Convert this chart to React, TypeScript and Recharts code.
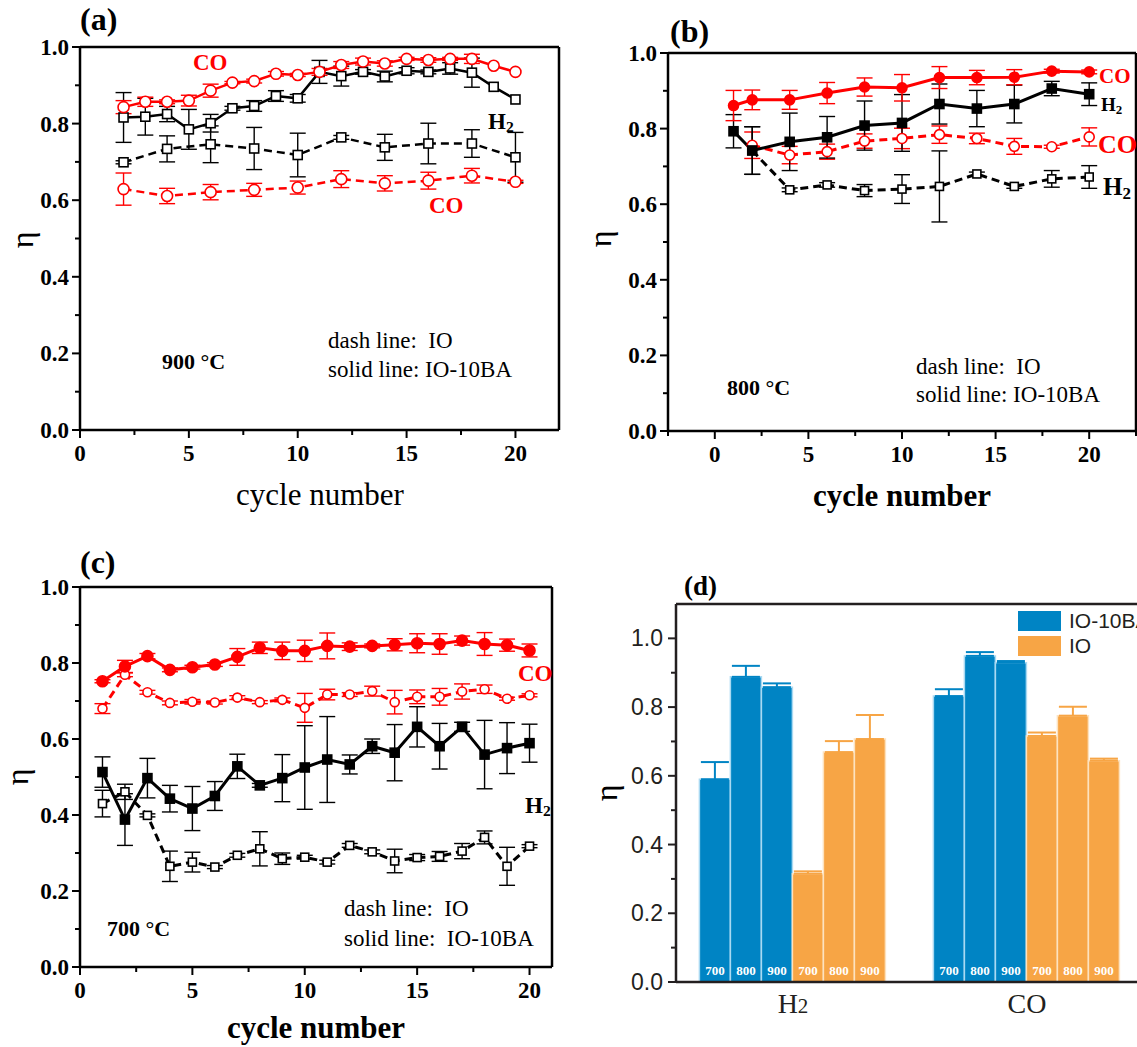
import React from 'react'
import {
  LineChart,
  Line,
  XAxis,
  YAxis,
  ErrorBar,
  ReferenceLine,
  BarChart,
  Bar,
  LabelList,
  Legend,
} from 'recharts'

const SERIF = "'Liberation Serif', 'Times New Roman', Times, serif"
const SANS = "'Liberation Sans', Arial, Helvetica, sans-serif"
const RED = '#ff0000'
const BLACK = '#000000'
const BLUE = '#0084c4'
const BLUE_EDGE = '#a9d9f2'
const ORANGE = '#f7a545'
const ORANGE_EDGE = '#fde2bf'
const INK = '#231f20'

// shared tick values
const etaTicks = [0, 0.1, 0.2, 0.3, 0.4, 0.5, 0.6, 0.7, 0.8, 0.9, 1.0]
const cycleTicks = [0, 2.5, 5, 7.5, 10, 12.5, 15, 17.5, 20]
const cycleTicksB = [-2.5, 0, 2.5, 5, 7.5, 10, 12.5, 15, 17.5, 20, 22.5]

// (a) 900 °C
const cyclesA = [2, 3, 4, 5, 6, 7, 8, 9, 10, 11, 12, 13, 14, 15, 16, 17, 18, 19, 20]
const cyclesAEven = [2, 4, 6, 8, 10, 12, 14, 16, 18, 20]
const aCoBA = [0.843, 0.857, 0.857, 0.86, 0.886, 0.907, 0.911, 0.93, 0.927, 0.935, 0.953, 0.962, 0.957, 0.969, 0.966, 0.969, 0.969, 0.951, 0.935]
const aCoBAErr = [0.017, 0.012, 0.005, 0.014, 0.017, 0.003, 0.005, 0.006, 0.004, 0.009, 0.009, 0.009, 0.007, 0.004, 0.006, 0.004, 0.012, 0, 0]
const aH2BA = [0.816, 0.818, 0.825, 0.785, 0.801, 0.84, 0.846, 0.872, 0.866, 0.935, 0.924, 0.935, 0.923, 0.938, 0.935, 0.944, 0.933, 0.896, 0.863]
const aH2BAErr = [0.065, 0.048, 0.02, 0.052, 0.023, 0.005, 0.014, 0.014, 0.01, 0.03, 0.026, 0.006, 0.014, 0.008, 0.005, 0.015, 0.038, 0, 0]
const aH2IO = [0.699, 0.734, 0.746, 0.735, 0.718, 0.764, 0.738, 0.748, 0.748, 0.712]
const aH2IOErr = [0.004, 0.034, 0.048, 0.055, 0.057, 0.005, 0.034, 0.053, 0.036, 0.065]
const aCoIO = [0.629, 0.611, 0.621, 0.627, 0.633, 0.655, 0.644, 0.651, 0.664, 0.648]
const aCoIOErr = [0.042, 0.02, 0.02, 0.017, 0.017, 0.022, 0.02, 0.022, 0.019, 0.004]

// (b) 800 °C
const cyclesB = [1, 2, 4, 6, 8, 10, 12, 14, 16, 18, 20]
const cyclesBEven = [2, 4, 6, 8, 10, 12, 14, 16, 18, 20]
const bCoBA = [0.861, 0.876, 0.876, 0.894, 0.91, 0.908, 0.935, 0.935, 0.936, 0.952, 0.95]
const bCoBAErr = [0.04, 0.026, 0.025, 0.028, 0.024, 0.035, 0.029, 0.019, 0.02, 0.005, 0.005]
const bH2BA = [0.793, 0.742, 0.765, 0.777, 0.808, 0.815, 0.865, 0.853, 0.865, 0.906, 0.891]
const bH2BAErr = [0.044, 0.063, 0.076, 0.055, 0.065, 0.075, 0.053, 0.048, 0.05, 0.019, 0.03]
const bCoIO = [0.756, 0.73, 0.739, 0.767, 0.774, 0.784, 0.774, 0.753, 0.752, 0.778]
const bCoIOErr = [0.035, 0.023, 0.02, 0.019, 0.027, 0.023, 0.014, 0.021, 0.004, 0.024]
const bH2IO = [0.742, 0.638, 0.651, 0.636, 0.64, 0.647, 0.68, 0.647, 0.667, 0.672]
const bH2IOErr = [0.063, 0.005, 0.006, 0.016, 0.038, 0.094, 0.005, 0.005, 0.022, 0.03]

// (c) 700 °C
const cyclesC = [1, 2, 3, 4, 5, 6, 7, 8, 9, 10, 11, 12, 13, 14, 15, 16, 17, 18, 19, 20]
const cCoBA = [0.752, 0.791, 0.818, 0.782, 0.789, 0.796, 0.816, 0.84, 0.832, 0.832, 0.845, 0.843, 0.845, 0.848, 0.852, 0.85, 0.859, 0.85, 0.847, 0.833]
const cCoBAErr = [0.004, 0.016, 0.007, 0.005, 0.005, 0.005, 0.022, 0.015, 0.023, 0.028, 0.034, 0.01, 0.005, 0.016, 0.025, 0.027, 0.012, 0.03, 0.016, 0.017]
const cCoIO = [0.68, 0.769, 0.723, 0.695, 0.698, 0.696, 0.709, 0.697, 0.703, 0.682, 0.717, 0.717, 0.726, 0.697, 0.711, 0.711, 0.725, 0.731, 0.706, 0.715]
const cCoIOErr = [0.013, 0.005, 0.005, 0.005, 0.006, 0.004, 0.005, 0.004, 0.005, 0.038, 0.014, 0.005, 0.013, 0.031, 0.018, 0.022, 0.02, 0.011, 0.004, 0.004]
const cH2BA = [0.513, 0.388, 0.497, 0.443, 0.417, 0.45, 0.528, 0.478, 0.497, 0.525, 0.546, 0.533, 0.581, 0.564, 0.632, 0.581, 0.632, 0.559, 0.576, 0.589]
const cH2BAErr = [0.04, 0.068, 0.052, 0.035, 0.058, 0.038, 0.032, 0.005, 0.062, 0.11, 0.113, 0.025, 0.019, 0.074, 0.053, 0.06, 0.012, 0.09, 0.067, 0.05]
const cH2IO = [0.43, 0.461, 0.399, 0.265, 0.276, 0.263, 0.294, 0.311, 0.285, 0.289, 0.276, 0.32, 0.303, 0.279, 0.288, 0.291, 0.305, 0.341, 0.265, 0.318]
const cH2IOErr = [0.035, 0.02, 0.004, 0.04, 0.026, 0.004, 0.005, 0.045, 0.015, 0.005, 0.005, 0.005, 0.005, 0.031, 0.008, 0.013, 0.02, 0.017, 0.05, 0.004]

// (d) averages per gas and temperature
const gasesD = ['H2', 'CO']
const ba700 = [0.59, 0.832]
const ba700Err = [0.05, 0.02]
const ba800 = [0.888, 0.949]
const ba800Err = [0.032, 0.011]
const ba900 = [0.858, 0.929]
const ba900Err = [0.011, 0.005]
const io700 = [0.315, 0.716]
const io700Err = [0.007, 0.01]
const io800 = [0.669, 0.775]
const io800Err = [0.032, 0.026]
const io900 = [0.707, 0.644]
const io900Err = [0.07, 0.006]

type Pt = { x: number; y: number; e: number }
const toPts = (xs: number[], ys: number[], es: number[]): Pt[] =>
  xs.map((x, i) => ({ x, y: ys[i], e: es[i] }))

type Series = {
  id: string
  data: Pt[]
  color: string
  dashed?: boolean
  marker: 'circle' | 'square'
  filled?: boolean
  size: number
}

function marker(s: Series) {
  return (p: any) => {
    const { cx, cy, index } = p
    const key = `${s.id}-${index}`
    if (cx == null || cy == null) return <g key={key} />
    const fill = s.filled ? s.color : '#ffffff'
    if (s.marker === 'circle') {
      return <circle key={key} cx={cx} cy={cy} r={s.size} fill={fill} stroke={s.color} strokeWidth={1.6} />
    }
    return (
      <rect
        key={key}
        x={cx - s.size}
        y={cy - s.size}
        width={s.size * 2}
        height={s.size * 2}
        fill={fill}
        stroke={s.color}
        strokeWidth={1.6}
      />
    )
  }
}

const serifBold = { fontFamily: SERIF, fontWeight: 700, fontSize: 23 } as const

const EtaTick = (props: any) => {
  const { x, y, payload } = props
  const v = payload.value as number
  const major = Math.round(v * 10) % 2 === 0
  return (
    <g>
      <line x1={x} x2={x - (major ? 8 : 5)} y1={y} y2={y} stroke={BLACK} strokeWidth={2} />
      {major && (
        <text x={x - 11} y={y} dy={8} textAnchor="end" style={serifBold} fill={BLACK}>
          {v.toFixed(1)}
        </text>
      )}
    </g>
  )
}

const CycleTick = (props: any) => {
  const { x, y, payload } = props
  const v = payload.value as number
  const major = v % 5 === 0
  return (
    <g>
      <line x1={x} x2={x} y1={y} y2={y + (major ? 8 : 5)} stroke={BLACK} strokeWidth={2} />
      {major && (
        <text x={x} y={y + 31} textAnchor="middle" style={serifBold} fill={BLACK}>
          {v}
        </text>
      )}
    </g>
  )
}

const BarEtaTick = (props: any) => {
  const { x, y, payload } = props
  const v = payload.value as number
  const major = Math.round(v * 10) % 2 === 0
  return (
    <g>
      <line x1={x} x2={x - (major ? 8 : 5)} y1={y} y2={y} stroke={INK} strokeWidth={2} />
      {major && (
        <text x={x - 13} y={y} dy={8} textAnchor="end" style={{ fontFamily: SANS, fontSize: 23 }} fill={INK}>
          {v.toFixed(1)}
        </text>
      )}
    </g>
  )
}

const GasTick = (props: any) => {
  const { x, y, payload } = props
  const v = payload.value as string
  return (
    <text x={x} y={y + 31} textAnchor="middle" style={{ fontFamily: SERIF, fontSize: 28 }} fill={INK}>
      {v === 'H2' ? (
        <>
          H<tspan style={{ fontSize: 21 }}>2</tspan>
        </>
      ) : (
        v
      )}
    </text>
  )
}

interface CyclePanelProps {
  left: number
  top: number
  width: number
  height: number
  margin: { top: number; right: number; bottom: number; left: number }
  yAxisWidth: number
  xAxisHeight: number
  xDomain: [number, number]
  xTicks: number[]
  series: Series[]
  lineWidth: number
}

function CyclePanel({ left, top, width, height, margin, yAxisWidth, xAxisHeight, xDomain, xTicks, series, lineWidth }: CyclePanelProps) {
  return (
    <div style={{ position: 'absolute', left, top }}>
      <LineChart width={width} height={height} margin={margin}>
        <XAxis
          type="number"
          dataKey="x"
          domain={xDomain}
          ticks={xTicks}
          interval={0}
          allowDataOverflow
          height={xAxisHeight}
          tickSize={0}
          tickMargin={0}
          tickLine={false}
          tick={<CycleTick />}
          axisLine={{ stroke: BLACK, strokeWidth: 2.5 }}
        />
        <YAxis
          type="number"
          domain={[0, 1]}
          ticks={etaTicks}
          interval={0}
          allowDataOverflow
          width={yAxisWidth}
          tickSize={0}
          tickMargin={0}
          tickLine={false}
          tick={<EtaTick />}
          axisLine={{ stroke: BLACK, strokeWidth: 2.5 }}
        />
        <ReferenceLine y={1} stroke={BLACK} strokeWidth={2.5} />
        <ReferenceLine x={xDomain[1]} stroke={BLACK} strokeWidth={2.5} />
        {series.map((s) => (
          <Line
            key={s.id}
            data={s.data}
            dataKey="y"
            type="linear"
            stroke={s.color}
            strokeWidth={lineWidth}
            strokeDasharray={s.dashed ? '8 5' : undefined}
            dot={marker(s)}
            activeDot={false}
            isAnimationActive={false}
          >
            <ErrorBar dataKey="e" direction="y" width={8} stroke={s.color} strokeWidth={1.4} />
          </Line>
        ))}
      </LineChart>
    </div>
  )
}

function Note({
  x,
  y,
  children,
  size = 23,
  bold = false,
  color = BLACK,
  center = false,
  font = SERIF,
}: {
  x: number
  y: number
  children: React.ReactNode
  size?: number
  bold?: boolean
  color?: string
  center?: boolean
  font?: string
}) {
  return (
    <div
      style={{
        position: 'absolute',
        left: x,
        top: y,
        transform: center ? 'translate(-50%, -50%)' : 'translateY(-50%)',
        fontFamily: font,
        fontSize: size,
        fontWeight: bold ? 'bold' : 'normal',
        color,
        lineHeight: 1,
        whiteSpace: 'pre',
      }}
    >
      {children}
    </div>
  )
}

function Eta({ x, y, font = SERIF }: { x: number; y: number; font?: string }) {
  return (
    <div
      style={{
        position: 'absolute',
        left: x,
        top: y,
        transform: 'translate(-50%, -50%) rotate(-90deg)',
        fontFamily: font,
        fontSize: 32,
        lineHeight: 1,
        color: BLACK,
      }}
    >
      η
    </div>
  )
}

const H2 = () => (
  <>
    H<span style={{ fontSize: '0.68em', position: 'relative', top: '0.22em' }}>2</span>
  </>
)

const seriesA: Series[] = [
  { id: 'aCoIO', data: toPts(cyclesAEven, aCoIO, aCoIOErr), color: RED, dashed: true, marker: 'circle', size: 5.5 },
  { id: 'aH2IO', data: toPts(cyclesAEven, aH2IO, aH2IOErr), color: BLACK, dashed: true, marker: 'square', size: 4.5 },
  { id: 'aH2BA', data: toPts(cyclesA, aH2BA, aH2BAErr), color: BLACK, marker: 'square', size: 4.5 },
  { id: 'aCoBA', data: toPts(cyclesA, aCoBA, aCoBAErr), color: RED, marker: 'circle', size: 5.5 },
]

const seriesB: Series[] = [
  { id: 'bCoIO', data: toPts(cyclesBEven, bCoIO, bCoIOErr), color: RED, dashed: true, marker: 'circle', size: 5 },
  { id: 'bH2IO', data: toPts(cyclesBEven, bH2IO, bH2IOErr), color: BLACK, dashed: true, marker: 'square', size: 4 },
  { id: 'bH2BA', data: toPts(cyclesB, bH2BA, bH2BAErr), color: BLACK, marker: 'square', filled: true, size: 4.5 },
  { id: 'bCoBA', data: toPts(cyclesB, bCoBA, bCoBAErr), color: RED, marker: 'circle', filled: true, size: 5 },
]

const seriesC: Series[] = [
  { id: 'cCoIO', data: toPts(cyclesC, cCoIO, cCoIOErr), color: RED, dashed: true, marker: 'circle', size: 4.5 },
  { id: 'cH2IO', data: toPts(cyclesC, cH2IO, cH2IOErr), color: BLACK, dashed: true, marker: 'square', size: 4 },
  { id: 'cH2BA', data: toPts(cyclesC, cH2BA, cH2BAErr), color: BLACK, marker: 'square', filled: true, size: 4.5 },
  { id: 'cCoBA', data: toPts(cyclesC, cCoBA, cCoBAErr), color: RED, marker: 'circle', filled: true, size: 5.5 },
]

const barSeries = [
  { key: 'ba700', vals: ba700, errs: ba700Err, temp: '700', fill: BLUE, edge: BLUE_EDGE },
  { key: 'ba800', vals: ba800, errs: ba800Err, temp: '800', fill: BLUE, edge: BLUE_EDGE },
  { key: 'ba900', vals: ba900, errs: ba900Err, temp: '900', fill: BLUE, edge: BLUE_EDGE },
  { key: 'io700', vals: io700, errs: io700Err, temp: '700', fill: ORANGE, edge: ORANGE_EDGE },
  { key: 'io800', vals: io800, errs: io800Err, temp: '800', fill: ORANGE, edge: ORANGE_EDGE },
  { key: 'io900', vals: io900, errs: io900Err, temp: '900', fill: ORANGE, edge: ORANGE_EDGE },
]

const barRows = gasesD.map((gas, i) => {
  const row: Record<string, any> = { gas }
  barSeries.forEach((b) => {
    row[b.key] = b.vals[i]
    row[`${b.key}Err`] = [0, b.errs[i]]
  })
  return row
})

function LegendBox() {
  const item = (color: string, label: string) => (
    <div style={{ display: 'flex', alignItems: 'center', height: 25 }}>
      <span style={{ display: 'inline-block', width: 43, height: 20, background: color, marginRight: 8 }} />
      <span>{label}</span>
    </div>
  )
  return (
    <div style={{ fontFamily: SANS, fontSize: 21, color: INK, whiteSpace: 'nowrap', lineHeight: 1 }}>
      {item(BLUE, 'IO-10BA')}
      {item(ORANGE, 'IO')}
    </div>
  )
}

function BarPanel() {
  return (
    <div style={{ position: 'absolute', left: 590, top: 570 }}>
      <BarChart
        width={554}
        height={477}
        data={barRows}
        margin={{ top: 34, right: 0, bottom: 0, left: 0 }}
        barCategoryGap="10%"
        barGap={0}
      >
        <XAxis
          dataKey="gas"
          height={65}
          tickLine={false}
          tickSize={0}
          tickMargin={0}
          tick={<GasTick />}
          axisLine={{ stroke: INK, strokeWidth: 2.5 }}
        />
        <YAxis
          type="number"
          domain={[0, 1.1]}
          ticks={etaTicks}
          interval={0}
          allowDataOverflow
          width={86}
          tickSize={0}
          tickMargin={0}
          tickLine={false}
          tick={<BarEtaTick />}
          axisLine={{ stroke: INK, strokeWidth: 2.5 }}
        />
        <ReferenceLine y={1.1} stroke={INK} strokeWidth={2.5} />
        <Legend
          layout="vertical"
          align="center"
          verticalAlign="middle"
          wrapperStyle={{ left: 428, top: 38, width: 'auto' }}
          content={() => <LegendBox />}
        />
        {barSeries.map((b) => (
          <Bar
            key={b.key}
            dataKey={b.key}
            fill={b.fill}
            stroke={b.edge}
            strokeWidth={1.5}
            isAnimationActive={false}
          >
            <ErrorBar dataKey={`${b.key}Err`} direction="y" width={14} stroke={b.fill} strokeWidth={2} />
            <LabelList
              dataKey={b.key}
              position="insideBottom"
              offset={7}
              formatter={() => b.temp}
              fill="#ffffff"
              fontSize={13}
              fontWeight="bold"
              fontFamily={SERIF}
            />
          </Bar>
        ))}
      </BarChart>
    </div>
  )
}

export default function App() {
  return (
    <div
      style={{
        position: 'absolute',
        left: 0,
        top: 0,
        width: 1137,
        height: 1047,
        overflow: 'hidden',
        background: '#ffffff',
      }}
    >
      {/* (a) 900 °C */}
      <CyclePanel
        left={0}
        top={0}
        width={580}
        height={520}
        margin={{ top: 47, right: 21, bottom: 0, left: 0 }}
        yAxisWidth={80}
        xAxisHeight={90}
        xDomain={[0, 22]}
        xTicks={cycleTicks}
        series={seriesA}
        lineWidth={2.5}
      />
      <Note x={80} y={19} size={32} bold>(a)</Note>
      <Note x={193} y={62} bold color={RED}>CO</Note>
      <Note x={488} y={121} bold><H2 /></Note>
      <Note x={429} y={205} bold color={RED}>CO</Note>
      <Note x={162} y={362} size={22} bold>900 °C</Note>
      <Note x={328} y={340}>dash line:  IO</Note>
      <Note x={328} y={369}>solid line: IO-10BA</Note>
      <Note x={320} y={494} size={31} center>cycle number</Note>
      <Eta x={22} y={240} />

      {/* (b) 800 °C */}
      <CyclePanel
        left={590}
        top={0}
        width={547}
        height={520}
        margin={{ top: 53, right: 1, bottom: 0, left: 0 }}
        yAxisWidth={78}
        xAxisHeight={89}
        xDomain={[-2.5, 22.5]}
        xTicks={cycleTicksB}
        series={seriesB}
        lineWidth={3}
      />
      <Note x={670} y={31} size={32} bold>(b)</Note>
      <Note x={1099} y={76} size={21} bold color={RED}>CO</Note>
      <Note x={1101} y={104} size={19} bold><H2 /></Note>
      <Note x={1098} y={145} size={26} bold color={RED}>CO</Note>
      <Note x={1103} y={186} size={25} bold><H2 /></Note>
      <Note x={727} y={388} size={22} bold>800 °C</Note>
      <Note x={916} y={366}>dash line:  IO</Note>
      <Note x={916} y={394}>solid line: IO-10BA</Note>
      <Note x={902} y={495} size={31} bold center>cycle number</Note>
      <Eta x={600} y={239} />

      {/* (c) 700 °C */}
      <CyclePanel
        left={0}
        top={560}
        width={572}
        height={487}
        margin={{ top: 27, right: 20, bottom: 0, left: 0 }}
        yAxisWidth={80}
        xAxisHeight={80}
        xDomain={[0, 21]}
        xTicks={cycleTicks}
        series={seriesC}
        lineWidth={3}
      />
      <Note x={80} y={562} size={32} bold>(c)</Note>
      <Note x={518} y={673} bold color={RED}>CO</Note>
      <Note x={525} y={805} bold><H2 /></Note>
      <Note x={107} y={929} size={22} bold>700 °C</Note>
      <Note x={344} y={908}>dash line:  IO</Note>
      <Note x={344} y={938}>solid line:  IO-10BA</Note>
      <Note x={316} y={1027} size={31} bold center>cycle number</Note>
      <Eta x={17} y={777} />

      {/* (d) averages */}
      <BarPanel />
      <Note x={684} y={586} size={27} bold>(d)</Note>
      <Eta x={606} y={793} />
    </div>
  )
}
